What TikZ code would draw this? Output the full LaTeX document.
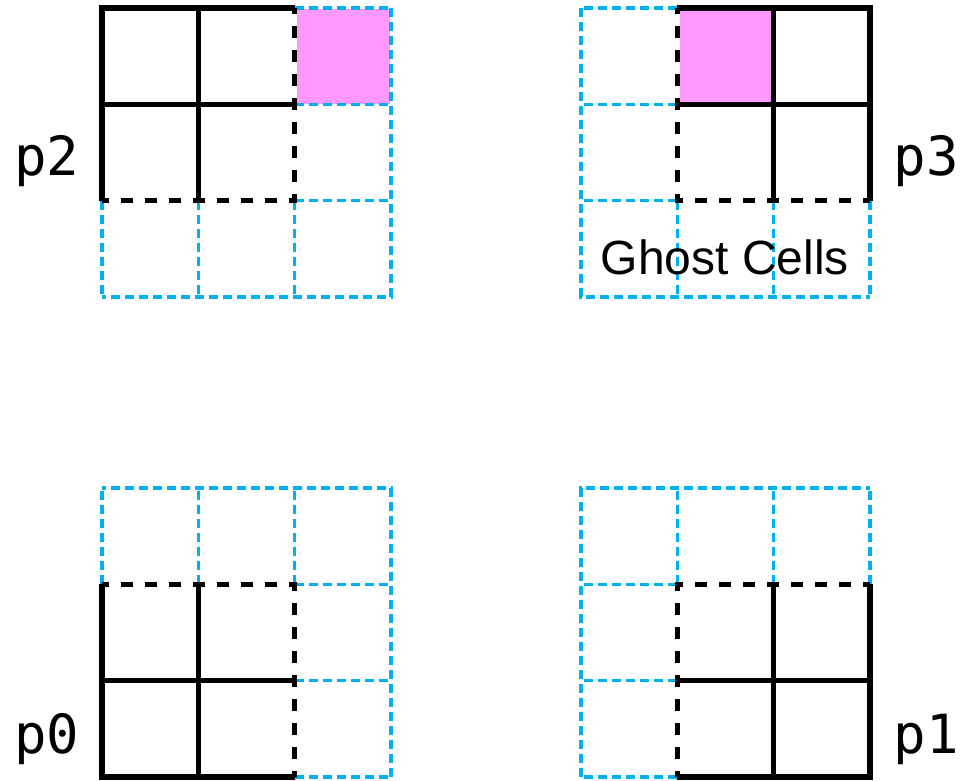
\documentclass[tikz,border=0pt]{standalone}
\usepackage{fontspec}
\usepackage{xcolor}
\usepackage{tikz}
\newfontfamily\procfont{DejaVu Sans Mono}
\newfontfamily\ghostfont{Liberation Sans}
\definecolor{ghostblue}{HTML}{00B0F0}
\definecolor{sentpink}{HTML}{FF99FF}

% one process block: owned 2x2 corner at local (0,0), ghost ring out to 3
\newcommand{\procgrid}[1]{%
  \begin{scope}[#1]
    \draw[ghostline] (3,0) -- (3,3) -- (0,3);
    \draw[ghostline] (2,0) -- (3,0) (2,1) -- (3,1) (2,2) -- (3,2);
    \draw[ghostline] (0,2) -- (0,3) (1,2) -- (1,3) (2,2) -- (2,3);
    \draw[ownline] (2,0) -- (0,0) -- (0,2) (1,0) -- (1,2) (0,1) -- (2,1);
    \draw[haloline] (2,0) -- (2,2) -- (0,2);
  \end{scope}}

\begin{document}
\begin{tikzpicture}[
      x=1pt, y=-1pt,
      ownline/.style={line width=5.5pt, draw=black},
      haloline/.style={line width=5.5pt, draw=black, dash pattern=on 12pt off 12pt, dash phase=6pt},
      ghostline/.style={line width=3.5pt, draw=ghostblue, dash pattern=on 9pt off 5pt},
      proclabel/.style={font=\procfont\fontsize{54}{54}\selectfont, anchor=base, inner sep=0pt},
      ghostlabel/.style={font=\ghostfont\fontsize{48}{48}\selectfont, anchor=base, inner sep=0pt}
    ]
    \useasboundingbox (0,0) rectangle (963,780);

    % exchanged cell
    \fill[sentpink] (297,9) rectangle (390,104);
    \fill[sentpink] (680,9) rectangle (773,104);

    \procgrid{shift={(102,8)}, x=96.3pt, y=-96.3pt}
    \procgrid{shift={(870,8)}, x=-96.3pt, y=-96.3pt}
    \procgrid{shift={(102,777)}, x=96.3pt, y=96.3pt}
    \procgrid{shift={(870,777)}, x=-96.3pt, y=96.3pt}

    \node[proclabel] (ptwo) at (47,175) {p2};
    \node[proclabel] (pthree) at (926,175) {p3};
    \node[proclabel] (pzero) at (47,753) {p0};
    \node[proclabel] (pone) at (926,753) {p1};
    \node[ghostlabel] (ghost) at (725,274) {Ghost Cells};
  \end{tikzpicture}
\end{document}
